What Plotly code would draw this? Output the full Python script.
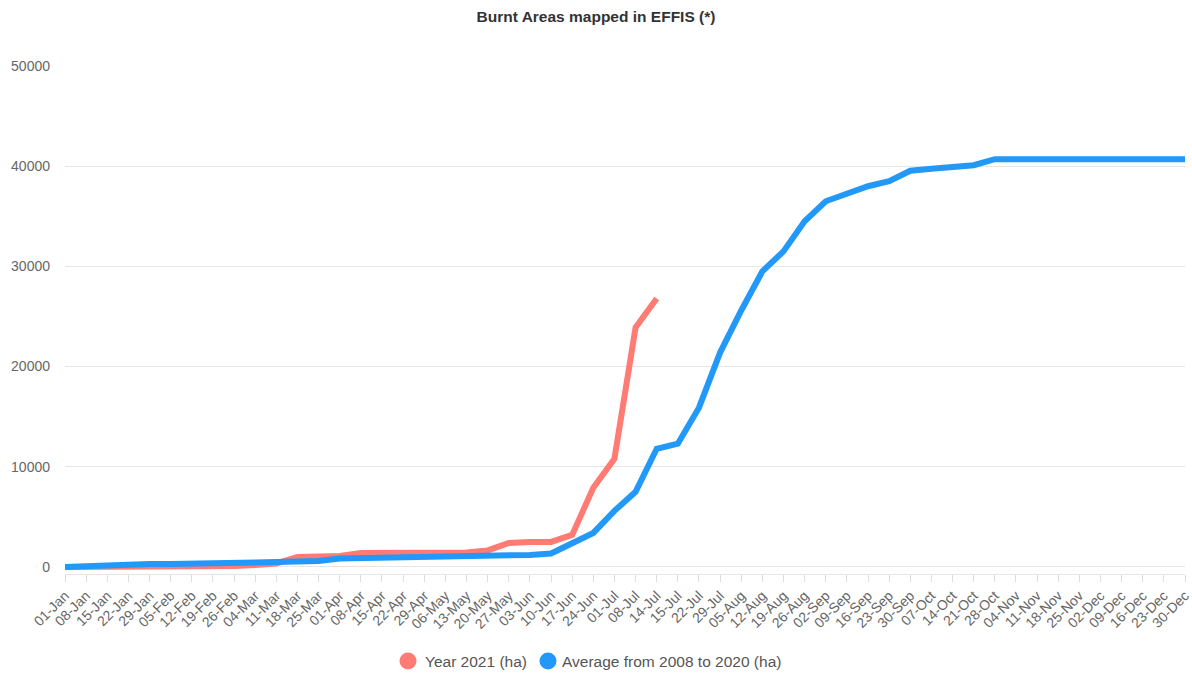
import plotly.graph_objects as go

# Weekly dates on the category axis
weeks = [
    "01-Jan", "08-Jan", "15-Jan", "22-Jan", "29-Jan", "05-Feb", "12-Feb", "19-Feb", "26-Feb",
    "04-Mar", "11-Mar", "18-Mar", "25-Mar", "01-Apr", "08-Apr", "15-Apr", "22-Apr", "29-Apr",
    "06-May", "13-May", "20-May", "27-May", "03-Jun", "10-Jun", "17-Jun", "24-Jun", "01-Jul",
    "08-Jul", "14-Jul", "15-Jul", "22-Jul", "29-Jul", "05-Aug", "12-Aug", "19-Aug", "26-Aug",
    "02-Sep", "09-Sep", "16-Sep", "23-Sep", "30-Sep", "07-Oct", "14-Oct", "21-Oct", "28-Oct",
    "04-Nov", "11-Nov", "18-Nov", "25-Nov", "02-Dec", "09-Dec", "16-Dec", "23-Dec", "30-Dec",
]

# Cumulative burnt area, 2021 (ha) - available up to 14-Jul
year_2021 = [
    0, 0, 0, 0, 0, 0, 0, 50, 100,
    200, 350, 1000, 1000, 1100, 1400, 1400, 1400, 1400,
    1400, 1450, 1650, 2400, 2500, 2500, 3200, 7900, 10800,
    23900, 26800,
]

# Cumulative burnt area, average 2008-2020 (ha)
avg_2008_2020 = [
    0, 100, 100, 300, 300, 300, 300, 300, 400,
    450, 500, 550, 600, 850, 900, 900, 950, 950,
    1000, 1000, 1050, 1100, 1200, 1350, 2400, 3400, 5600,
    7500, 11800, 12300, 15900, 21400, 25600, 29500, 31500, 34500,
    36500, 37300, 38000, 38500, 39550, 39750, 39900, 40100, 40700,
    40700, 40700, 40700, 40700, 40700, 40700, 40700, 40700, 40700,
]

series_names = ["Year 2021 (ha)", "Average from 2008 to 2020 (ha)"]
y_ticks = [0, 10000, 20000, 30000, 40000, 50000]

RED = "#ff7b73"
BLUE = "#2299f8"
FONT = "Liberation Sans, Arial, sans-serif"

W, H = 1192, 673
ML, MR, MT, MB = 65, 7, 66, 99
PLOT_W = W - ML - MR
PLOT_H = H - MT - MB


def px(x):
    """Horizontal pixel -> paper coordinate."""
    return (x - ML) / PLOT_W


def py(y):
    """Vertical pixel (from top) -> paper coordinate."""
    return (H - MB - y) / PLOT_H


fig = go.Figure()

fig.add_trace(go.Scatter(
    x=weeks[:len(year_2021)], y=year_2021, mode="lines",
    line=dict(color=RED, width=6), name=series_names[0],
))
fig.add_trace(go.Scatter(
    x=weeks, y=avg_2008_2020, mode="lines",
    line=dict(color=BLUE, width=6), name=series_names[1],
))

# Legend drawn below the plot: round swatch + label
legend_items = [(RED, series_names[0], 408, 423), (BLUE, series_names[1], 548, 560)]
shapes, annotations = [], []
for color, label, cx, tx in legend_items:
    r = 8.5
    shapes.append(dict(
        type="circle", xref="paper", yref="paper",
        x0=px(cx - r), x1=px(cx + r), y0=py(661 + r), y1=py(661 - r),
        fillcolor=color, line=dict(width=0),
    ))
    annotations.append(dict(
        text=label, xref="paper", yref="paper", x=px(tx), y=py(661),
        xanchor="left", yanchor="middle", showarrow=False,
        font=dict(family=FONT, size=15.5, color="#555555"),
    ))

fig.update_layout(
    width=W, height=H,
    margin=dict(l=ML, r=MR, t=MT, b=MB),
    paper_bgcolor="white", plot_bgcolor="white",
    font=dict(family=FONT, color="#666666", size=14),
    title=dict(
        text="<b>Burnt Areas mapped in EFFIS (*)</b>",
        x=0.5, xanchor="center", y=1 - 17 / H, yanchor="middle",
        font=dict(family=FONT, size=15.5, color="#333333"),
    ),
    showlegend=False,
    shapes=shapes,
    annotations=annotations,
    xaxis=dict(
        type="category", categoryorder="array", categoryarray=weeks,
        range=[0, len(weeks) - 1], automargin=False,
        showgrid=False, zeroline=False,
        showline=True, linecolor="#e6e6e6", linewidth=1,
        ticks="outside", ticklen=7, tickcolor="#dddddd", tickwidth=1,
        tickangle=-45, tickfont=dict(family=FONT, size=14, color="#666666"),
        tickmode="array", tickvals=weeks, ticktext=weeks,
    ),
    yaxis=dict(
        range=[-700, 50000], automargin=False,
        tickmode="array", tickvals=y_ticks, ticktext=[str(v) for v in y_ticks],
        showgrid=True, gridcolor="#e6e6e6", gridwidth=1,
        zeroline=True, zerolinecolor="#e6e6e6", zerolinewidth=1,
        showline=False, ticks="", ticklabelstandoff=14,
        tickfont=dict(family=FONT, size=14, color="#666666"),
    ),
)

fig.write_html("out.html")
